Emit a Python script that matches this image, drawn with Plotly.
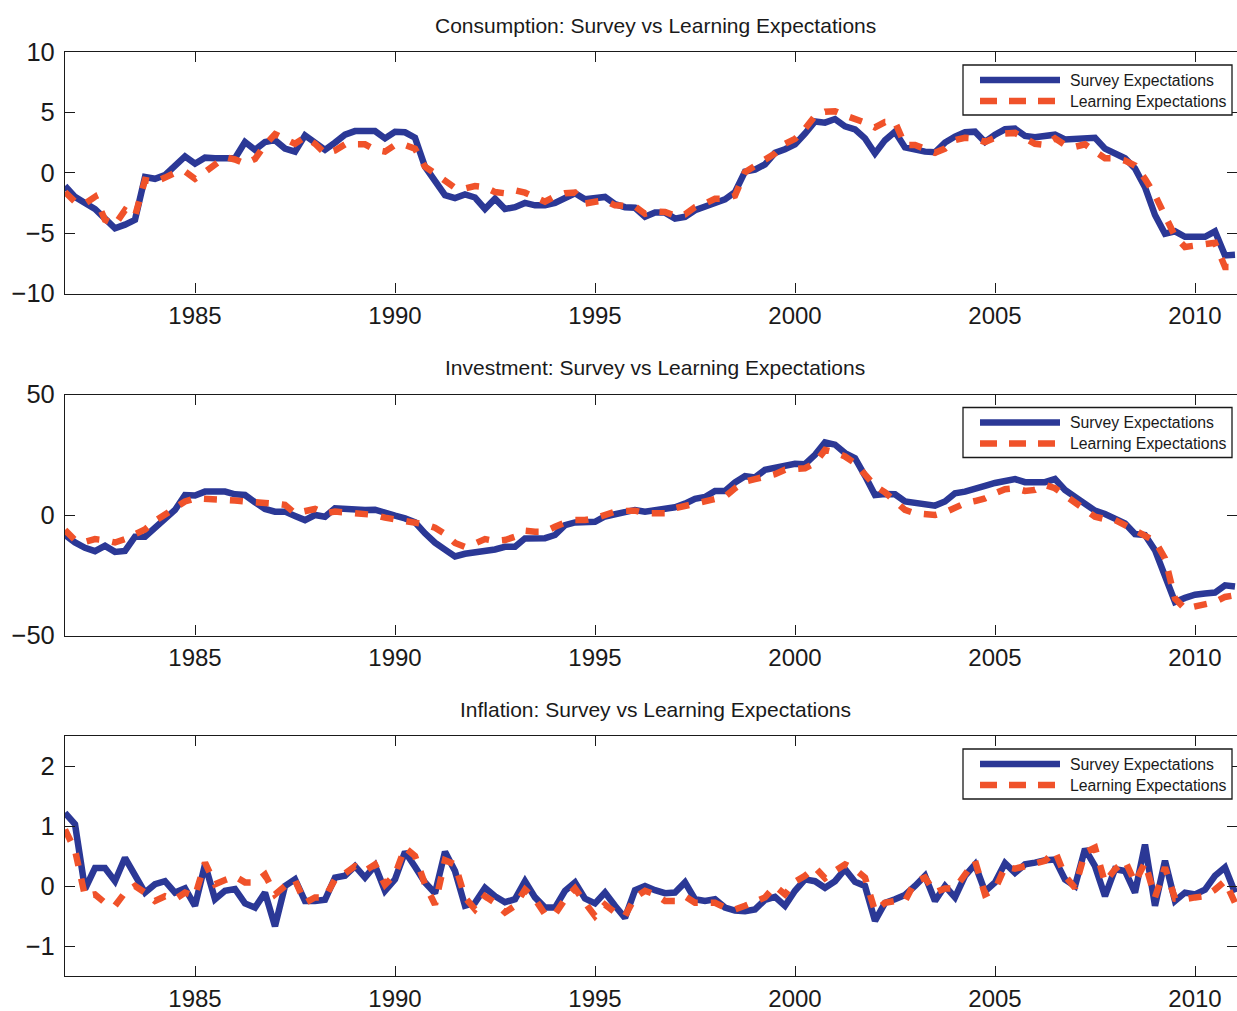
import plotly.graph_objects as go

W, H = 1237, 1011

# ---------------- data (quarterly, first obs 1981.75) ----------------
start_year = 1981.75

cons_survey = [
    -1.1, -2.0, -2.5, -3.0, -3.8, -4.6, -4.3, -3.9, -0.35, -0.5,
    -0.2, 0.5, 1.35, 0.75, 1.25, 1.2, 1.15, 1.2, 2.55, 1.9,
    2.55, 2.7, 2.0, 1.75, 3.1, 2.55, 1.9, 2.5, 3.15, 3.45,
    3.5, 3.45, 2.85, 3.4, 3.35, 2.9, 0.5, -0.6, -1.85, -2.1,
    -1.8, -2.05, -3.0, -2.15, -3.0, -2.85, -2.5, -2.7, -2.7, -2.5,
    -2.15, -1.7, -2.2, -2.1, -2.0, -2.6, -2.85, -2.9, -3.65, -3.3,
    -3.3, -3.8, -3.65, -3.1, -2.85, -2.5, -2.2, -1.6, 0.1, 0.25,
    0.7, 1.65, 1.95, 2.35, 3.25, 4.25, 4.15, 4.45, 3.85, 3.6,
    2.85, 1.6, 2.7, 3.4, 2.1, 1.9, 1.75, 1.7, 2.5, 3.0,
    3.35, 3.4, 2.55, 3.15, 3.6, 3.65, 3.05, 2.95, 3.0, 3.15,
    2.75, 2.8, 2.9, 2.9, 2.0, 1.6, 1.2, 0.35, -1.2, -3.5,
    -5.05, -4.85, -5.3, -5.3, -5.3, -4.85, -6.85, -6.8,
]
cons_learning = [
    -1.6, -2.4, -2.55, -2.0, -3.9, -4.3, -3.1, -3.6, -0.6, -0.75,
    -0.4, 0.0, 0.1, -0.5, 0.05, 0.7, 1.3, 1.1, 0.75, 1.15,
    2.3, 3.2, 2.75, 2.4, 2.95, 2.4, 1.6, 1.85, 2.35, 2.35,
    2.35, 1.9, 1.75, 2.3, 2.3, 2.0, 0.5, -0.05, -0.7, -1.25,
    -1.3, -1.1, -1.2, -1.6, -1.7, -1.45, -1.65, -2.0, -2.4, -1.95,
    -1.7, -1.65, -2.55, -2.4, -2.3, -2.7, -2.7, -2.8, -3.4, -3.2,
    -3.25, -3.55, -3.45, -2.85, -2.55, -2.15, -2.15, -1.9, 0.05, 0.6,
    1.1, 1.6, 2.4, 2.8, 3.65, 4.7, 5.05, 5.1, 4.75, 4.5,
    4.15, 3.75, 4.2, 4.2, 2.3, 2.3, 2.0, 1.65, 2.0, 2.7,
    2.9, 2.85, 2.55, 2.95, 3.25, 3.3, 2.9, 2.4, 2.3, 2.85,
    2.3, 2.15, 2.35, 1.75, 1.2, 1.2, 1.0, 0.6, -0.5, -1.85,
    -3.65, -5.25, -6.15, -6.0, -5.95, -5.8, -7.8, -7.8,
]
inv_survey = [
    -8.3, -11.4, -13.6, -15.0, -12.8, -15.3, -14.9, -9.0, -9.0, -5.3,
    -1.7, 2.1, 8.3, 8.1, 9.7, 9.7, 9.7, 8.6, 8.3, 5.3,
    2.5, 1.4, 1.4, -0.4, -2.1, 0.0, -0.7, 2.8, 2.4, 2.1,
    2.1, 2.2, 0.7, -0.3, -1.4, -3.0, -7.6, -11.5, -14.4, -17.2,
    -16.1, -15.7, -15.3, -14.3, -13.2, -13.2, -9.7, -9.4, -9.6, -8.3,
    -4.2, -3.1, -2.9, -2.8, -0.6, 0.3, 1.1, 2.1, 1.4, 1.8,
    2.4, 3.2, 4.7, 6.7, 7.5, 10.0, 10.0, 13.5, 16.1, 15.6,
    18.75, 19.4, 20.0, 21.25, 21.1, 25.0, 30.1, 29.2, 25.7, 23.6,
    16.25, 8.3, 8.75, 8.6, 5.6, 5.0, 4.7, 3.9, 5.6, 9.0,
    9.7, 10.6, 12.1, 13.3, 14.2, 14.9, 13.6, 13.6, 13.6, 14.9,
    10.4, 7.5, 4.6, 1.8, 0.4, -1.7, -3.5, -7.9, -8.3, -14.6,
    -25.4, -36.1, -34.4, -33.1, -32.6, -32.2, -29.2, -29.7,
]
inv_learning = [
    -6.25, -10.4, -11.1, -10.0, -10.5, -11.4, -10.0, -7.9, -6.0, -2.5,
    0.0, 2.4, 5.6, 6.9, 6.7, 6.25, 6.7, 6.0, 5.6, 5.6,
    5.0, 4.7, 4.2, 0.7, 1.4, 2.5, 0.7, 1.4, 1.1, 0.7,
    0.3, 0.0, -1.1, -1.7, -2.1, -2.8, -3.9, -5.3, -7.9, -11.6,
    -13.2, -11.8, -10.0, -10.8, -10.4, -9.0, -6.5, -6.9, -6.9, -4.9,
    -3.1, -2.1, -2.1, -1.4, -0.3, 1.4, 1.7, 1.8, 0.7, 0.7,
    0.7, 2.8, 3.9, 5.0, 6.1, 6.9, 7.6, 11.1, 13.9, 14.9,
    16.0, 16.9, 18.75, 19.2, 19.4, 21.5, 27.0, 26.0, 24.3, 21.5,
    16.7, 12.1, 9.4, 5.6, 2.1, 0.7, 0.3, 0.0, 1.1, 3.2,
    4.9, 5.8, 6.9, 9.0, 10.7, 11.1, 10.0, 10.4, 12.5, 11.1,
    8.3, 5.6, 2.5, -0.7, -1.7, -2.1, -4.2, -6.25, -8.1, -10.8,
    -18.0, -34.7, -38.9, -37.8, -37.2, -36.1, -34.0, -33.3,
]
inf_survey = [
    1.22, 1.03, -0.05, 0.3, 0.3, 0.08, 0.47, 0.17, -0.11, 0.03,
    0.08, -0.11, -0.04, -0.33, 0.36, -0.22, -0.08, -0.05, -0.29, -0.36,
    -0.11, -0.67, 0.0, 0.11, -0.25, -0.25, -0.23, 0.14, 0.17, 0.33,
    0.14, 0.34, -0.08, 0.11, 0.57, 0.32, 0.06, -0.12, 0.57, 0.25,
    -0.33, -0.28, -0.03, -0.17, -0.27, -0.22, 0.08, -0.19, -0.36, -0.36,
    -0.08, 0.06, -0.21, -0.29, -0.11, -0.33, -0.53, -0.07, 0.0, -0.07,
    -0.12, -0.11, 0.06, -0.22, -0.25, -0.22, -0.36, -0.41, -0.42, -0.39,
    -0.23, -0.18, -0.33, -0.08, 0.11, 0.08, -0.03, 0.08, 0.28, 0.07,
    0.0, -0.58, -0.28, -0.22, -0.15, 0.0, 0.17, -0.25, 0.0, -0.19,
    0.17, 0.36, -0.09, 0.06, 0.38, 0.22, 0.36, 0.39, 0.43, 0.44,
    0.11, 0.0, 0.62, 0.33, -0.17, 0.28, 0.25, -0.11, 0.69, -0.33,
    0.42, -0.25, -0.11, -0.14, -0.06, 0.17, 0.31, -0.11,
]
inf_learning = [
    0.94, 0.6, -0.17, -0.14, -0.28, -0.33, -0.11, 0.0, -0.11, -0.25,
    -0.17, -0.22, -0.11, -0.17, 0.39, 0.03, 0.1, 0.16, 0.06, 0.06,
    0.19, -0.14, 0.0, 0.1, -0.28, -0.19, -0.19, 0.11, 0.21, 0.33,
    0.25, 0.36, 0.02, 0.19, 0.64, 0.5, 0.03, -0.31, 0.43, 0.36,
    -0.19, -0.39, -0.17, -0.28, -0.44, -0.33, -0.06, -0.22, -0.47, -0.47,
    -0.22, -0.04, -0.28, -0.5, -0.31, -0.44, -0.5, -0.19, -0.08, -0.14,
    -0.25, -0.25, -0.17, -0.28, -0.28, -0.28, -0.36, -0.39, -0.33, -0.27,
    -0.19, 0.0, -0.14, 0.07, 0.17, 0.31, 0.13, 0.25, 0.36, 0.28,
    0.14, -0.42, -0.28, -0.25, -0.25, 0.07, 0.14, -0.11, -0.04, -0.04,
    0.19, 0.42, -0.14, -0.06, 0.32, 0.29, 0.33, 0.38, 0.42, 0.58,
    0.17, -0.03, 0.56, 0.64, 0.06, 0.28, 0.42, 0.06, 0.39, -0.19,
    0.31, -0.21, -0.22, -0.19, -0.17, -0.06, 0.08, -0.28,
]

titles = [
    "Consumption: Survey vs Learning Expectations",
    "Investment: Survey vs Learning Expectations",
    "Inflation: Survey vs Learning Expectations",
]
series_names = ["Survey Expectations", "Learning Expectations"]
x_ticks = [1985, 1990, 1995, 2000, 2005, 2010]
y_ticks = [[-10, -5, 0, 5, 10], [-50, 0, 50], [-1, 0, 1, 2]]
y_ranges = [[-10, 10], [-50, 50], [-1.5, 2.5]]
x_range = [1981.75, 2011.05]

n = len(cons_survey)
years = [start_year + 0.25 * i for i in range(n)]

panels = [
    (cons_survey, cons_learning),
    (inv_survey, inv_learning),
    (inf_survey, inf_learning),
]

BLUE = "#2B3896"
ORANGE = "#F0522A"
AX = "#1a1a1a"
FONT = "Liberation Sans, Arial, Helvetica, sans-serif"

# pixel layout of each panel: (top, bottom)
panel_px = [(52, 293.5), (394.5, 635.5), (736, 976)]
left_px = 65

fig = go.Figure()
layout = dict(
    width=W, height=H,
    margin=dict(l=0, r=0, t=0, b=0),
    paper_bgcolor="white", plot_bgcolor="white",
    showlegend=False,
    font=dict(family=FONT, color=AX),
)
annotations = []
shapes = []

for i, (surv, learn) in enumerate(panels):
    sfx = "" if i == 0 else str(i + 1)
    xa, ya = "x" + sfx, "y" + sfx
    fig.add_trace(go.Scatter(x=years, y=surv, mode="lines", name=series_names[0],
                             line=dict(color=BLUE, width=6.5), xaxis=xa, yaxis=ya))
    fig.add_trace(go.Scatter(x=years, y=learn, mode="lines", name=series_names[1],
                             line=dict(color=ORANGE, width=6.5, dash="13px,13px"),
                             xaxis=xa, yaxis=ya))
    top, bot = panel_px[i]
    dom = [1 - bot / H, 1 - top / H]
    common = dict(showline=True, linecolor=AX, linewidth=1.3, mirror="allticks",
                  ticks="inside", ticklen=10, tickwidth=1.2, tickcolor=AX,
                  showgrid=False, zeroline=False, automargin=False)
    layout["xaxis" + sfx] = dict(common, domain=[left_px / W, 1], range=x_range,
                                 tickvals=x_ticks, anchor=ya, ticklabelstandoff=1,
                                 tickfont=dict(size=24, color=AX, family=FONT))
    layout["yaxis" + sfx] = dict(common, domain=dom, range=y_ranges[i],
                                 tickvals=y_ticks[i], anchor=xa, ticklabelstandoff=4,
                                 tickfont=dict(size=25.5, color=AX, family=FONT))
    # title
    annotations.append(dict(text=titles[i], xref="paper", yref="paper",
                            x=655 / W, y=1 - (top - 27) / H, xanchor="center",
                            yanchor="middle", showarrow=False,
                            font=dict(size=21, color=AX, family=FONT)))
    # legend box (drawn manually to match the long line samples)
    off = top - 52
    lx0, lx1, ly0, ly1 = 963, 1232, 65 + off, 115 + off
    shapes.append(dict(type="rect", xref="paper", yref="paper",
                       x0=lx0 / W, x1=lx1 / W, y0=1 - ly1 / H, y1=1 - ly0 / H,
                       line=dict(color=AX, width=1.3), fillcolor="white", layer="above"))
    for j, (col, dash) in enumerate([(BLUE, "solid"), (ORANGE, "17px,12px")]):
        yy = 1 - (80 + 21 * j + off) / H
        shapes.append(dict(type="line", xref="paper", yref="paper",
                           x0=980 / W, x1=1060 / W, y0=yy, y1=yy,
                           line=dict(color=col, width=6.5, dash=dash), layer="above"))
        annotations.append(dict(text=series_names[j], xref="paper", yref="paper",
                                x=1068 / W, y=yy, xanchor="left", yanchor="middle",
                                showarrow=False,
                                font=dict(size=15.8, color=AX, family=FONT)))

layout["annotations"] = annotations
layout["shapes"] = shapes
fig.update_layout(**layout)
fig.write_html("out.html")
